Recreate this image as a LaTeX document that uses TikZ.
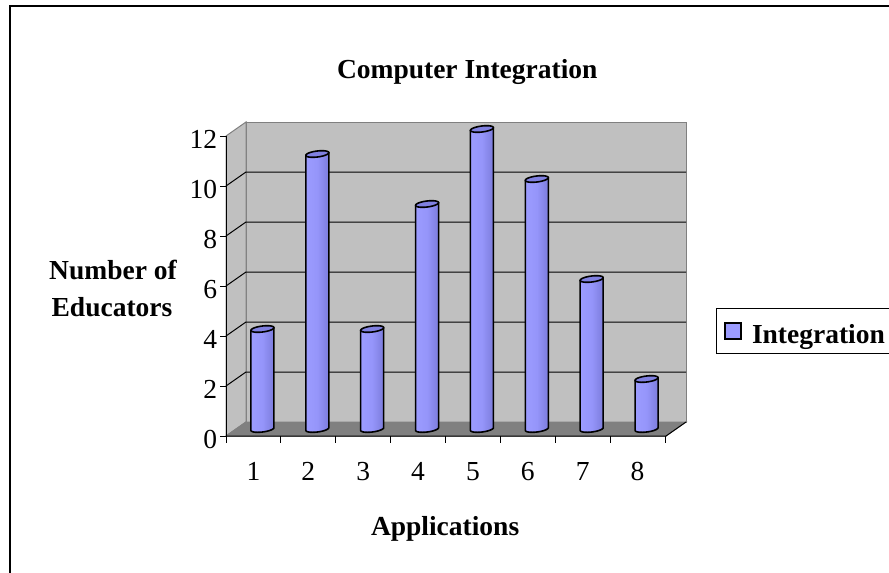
\documentclass[tikz,border=0pt]{standalone}
\usepackage{fontspec}
\setmainfont{Liberation Serif}
\definecolor{wallgray}{HTML}{C0C0C0}
\definecolor{floorgray}{HTML}{808080}
\definecolor{edgegray}{HTML}{808080}
\definecolor{barlight}{HTML}{9C9CFF}
\definecolor{barmid}{HTML}{9595FA}
\definecolor{bardark}{HTML}{7C7CDC}
\definecolor{bartop}{HTML}{8080E0}
\begin{document}
\begin{tikzpicture}[x=1pt,y=-1pt,
  lbl/.style={inner sep=0pt,outer sep=0pt,font=\fontsize{27.5}{30}\selectfont},
  blbl/.style={lbl,font=\fontsize{27.5}{30}\selectfont\bfseries},
  wall/.style={fill=wallgray,draw=edgegray,line width=1pt},
  grid/.style={black,line width=1pt},
  axis/.style={black,line width=1pt},
  barbody/.style={draw=black,line width=1.6pt,line join=round,left color=barlight,right color=bardark,middle color=barmid},
  bartopface/.style={draw=black,line width=1.6pt,line join=round,fill=bartop}]
\useasboundingbox (0,0) rectangle (889,573);
\clip (0,0) rectangle (889,573);
\fill[white] (0,0) rectangle (889,573);
% chart frame
\draw[line width=2pt] (10,6) rectangle (960,640);

% walls and floor
\path[wall] (246,122) rectangle (686,422);
\path[wall] (226,136) -- (246,122) -- (246,422) -- (226,436) -- cycle;
\path[fill=floorgray,draw=edgegray,line width=1pt] (226,436) -- (246,422) -- (686,422) -- (666,436) -- cycle;

% gridlines
\foreach \v in {2,4,...,10} {
  \draw[grid] (226,436-25*\v) -- (246,422-25*\v) -- (686,422-25*\v);
}

% value axis with ticks and labels
\draw[axis] (226,136) -- (226,436);
\foreach \v in {0,2,...,12} {
  \draw[axis] (220,436-25*\v) -- (226,436-25*\v);
  \node[lbl,anchor=base east] (yl\v) at (217,448-25*\v) {\v};
}

% category axis with ticks and labels
\draw[axis] (226,436) -- (666,436) -- (686,422);
\foreach \k in {0,...,8} {
  \draw[axis] (226+54.875*\k,436) -- (226+54.875*\k,443);
}
\foreach \k in {1,...,8} {
  \node[lbl,anchor=base] (xl\k) at (226+54.875*\k-27.44,480) {\k};
}

% cylinders
\foreach \v [count=\i] in {4,11,4,9,12,10,6,2} {
  \pgfmathsetmacro\cx{226+(\i-0.5)*54.875+9}
  \pgfmathsetmacro\ty{429-25*\v}
  \path[barbody] (\cx-11.5,430.35) -- (\cx-11.5,\ty+1.35) -- (\cx+11.5,\ty-1.35) -- (\cx+11.5,427.65)
    -- plot[domain=384.1:204.1,samples=25] ({\cx+10.5*cos(\x)+4.7*sin(\x)},{429-3.3*sin(\x)}) -- cycle;
  \path[bartopface] plot[domain=0:360,samples=37] ({\cx+10.5*cos(\x)+4.7*sin(\x)},{\ty-3.3*sin(\x)}) -- cycle;
}

% titles
\node[blbl,anchor=base west] (title) at (337,78) {Computer Integration};
\node[blbl,anchor=base west] (xtitle) at (371,535) {Applications};
\node[blbl,anchor=base] (ytitle1) at (113,279) {Number of};
\node[blbl,anchor=base] (ytitle2) at (112,316) {Educators};

% legend
\draw[black,line width=1pt] (716,308) rectangle (960,353);
\draw[black,line width=1.2pt,fill=barlight] (725,323) rectangle (741,339);
\node[blbl,anchor=base west] (legtext) at (752,343) {Integration};
\end{tikzpicture}
\end{document}
